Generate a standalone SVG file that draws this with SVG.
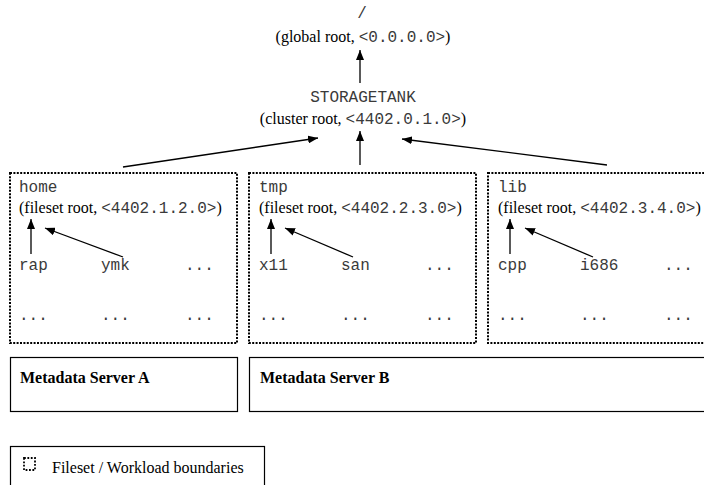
<svg xmlns="http://www.w3.org/2000/svg" width="704" height="485" viewBox="0 0 704 485">
  <style>
    .serif { font-family: "Liberation Serif", "Times New Roman", serif; font-size: 16px; fill: #000; }
    .mono { font-family: "Liberation Mono", "Courier New", monospace; font-size: 16px; fill: #3a3a3a; }
    .bold { font-family: "Liberation Serif", "Times New Roman", serif; font-size: 16px; font-weight: bold; fill: #000; }
    .fileset { fill: none; stroke: #000; stroke-width: 2; stroke-dasharray: 2 1.4; }
    .server { fill: #fff; stroke: #000; stroke-width: 1.2; }
    .edge { stroke: #000; stroke-width: 1.3; fill: none; marker-end: url(#arrow); }
  </style>
  <defs>
    <marker id="arrow" viewBox="0 0 10 8" refX="10" refY="4" markerWidth="10" markerHeight="8" markerUnits="userSpaceOnUse" orient="auto">
      <path d="M0,0 L10,4 L0,8 Z" fill="#000"/>
    </marker>
  </defs>
  <rect width="704" height="485" fill="#fff"/>

  <!-- global root -->
  <g id="global-root">
    <text class="mono" x="362" y="18" text-anchor="middle">/</text>
    <text class="serif" x="363" y="42" text-anchor="middle">(global root, <tspan class="mono">&lt;0.0.0.0&gt;</tspan>)</text>
  </g>

  <!-- cluster root -->
  <g id="cluster-root">
    <text class="mono" x="363" y="102" text-anchor="middle">STORAGETANK</text>
    <text class="serif" x="363" y="124" text-anchor="middle">(cluster root, <tspan class="mono">&lt;4402.0.1.0&gt;</tspan>)</text>
  </g>

  <!-- fileset home -->
  <g id="fileset-home">
    <rect class="fileset" x="10" y="173" width="227" height="170"/>
    <text class="mono" x="19" y="192">home</text>
    <text class="serif" x="19" y="213">(fileset root, <tspan class="mono">&lt;4402.1.2.0&gt;</tspan>)</text>
    <text class="mono" x="19" y="270">rap</text>
    <text class="mono" x="101" y="270">ymk</text>
    <text class="mono" x="185" y="270">...</text>
    <text class="mono" x="19" y="320">...</text>
    <text class="mono" x="101" y="320">...</text>
    <text class="mono" x="185" y="320">...</text>
  </g>

  <!-- fileset tmp -->
  <g id="fileset-tmp">
    <rect class="fileset" x="249" y="173" width="227" height="170"/>
    <text class="mono" x="259" y="192">tmp</text>
    <text class="serif" x="259" y="213">(fileset root, <tspan class="mono">&lt;4402.2.3.0&gt;</tspan>)</text>
    <text class="mono" x="259" y="270">x11</text>
    <text class="mono" x="341" y="270">san</text>
    <text class="mono" x="425" y="270">...</text>
    <text class="mono" x="259" y="320">...</text>
    <text class="mono" x="341" y="320">...</text>
    <text class="mono" x="425" y="320">...</text>
  </g>

  <!-- fileset lib -->
  <g id="fileset-lib">
    <rect class="fileset" x="488" y="173" width="230" height="170"/>
    <text class="mono" x="498" y="192">lib</text>
    <text class="serif" x="498" y="213">(fileset root, <tspan class="mono">&lt;4402.3.4.0&gt;</tspan>)</text>
    <text class="mono" x="498" y="270">cpp</text>
    <text class="mono" x="580" y="270">i686</text>
    <text class="mono" x="664" y="270">...</text>
    <text class="mono" x="498" y="320">...</text>
    <text class="mono" x="580" y="320">...</text>
    <text class="mono" x="664" y="320">...</text>
  </g>

  <!-- metadata servers -->
  <g id="server-a">
    <rect class="server" x="10.5" y="357.5" width="227" height="54"/>
    <text class="bold" x="20" y="383">Metadata Server A</text>
  </g>
  <g id="server-b">
    <rect class="server" x="249.5" y="357.5" width="470" height="54"/>
    <text class="bold" x="260" y="383">Metadata Server B</text>
  </g>

  <!-- legend -->
  <g id="legend">
    <rect class="server" x="10.5" y="446.5" width="254" height="60"/>
    <rect x="24" y="458" width="11" height="12" fill="none" stroke="#000" stroke-width="1.8" stroke-dasharray="1.8 1.6"/>
    <text class="serif" x="52" y="473">Fileset / Workload boundaries</text>
  </g>

  <!-- connectors -->
  <g id="connectors">
    <line class="edge" x1="360" y1="83" x2="360" y2="50"/>
    <line class="edge" x1="360" y1="165" x2="360" y2="131"/>
    <line class="edge" x1="123" y1="167" x2="318" y2="138"/>
    <line class="edge" x1="607" y1="165" x2="402" y2="139"/>
    <line class="edge" x1="31" y1="254" x2="31" y2="219"/>
    <line class="edge" x1="123" y1="257" x2="45" y2="228"/>
    <line class="edge" x1="271" y1="254" x2="271" y2="219"/>
    <line class="edge" x1="353" y1="257" x2="285" y2="228"/>
    <line class="edge" x1="510" y1="254" x2="510" y2="219"/>
    <line class="edge" x1="593" y1="257" x2="525" y2="228"/>
  </g>
</svg>
